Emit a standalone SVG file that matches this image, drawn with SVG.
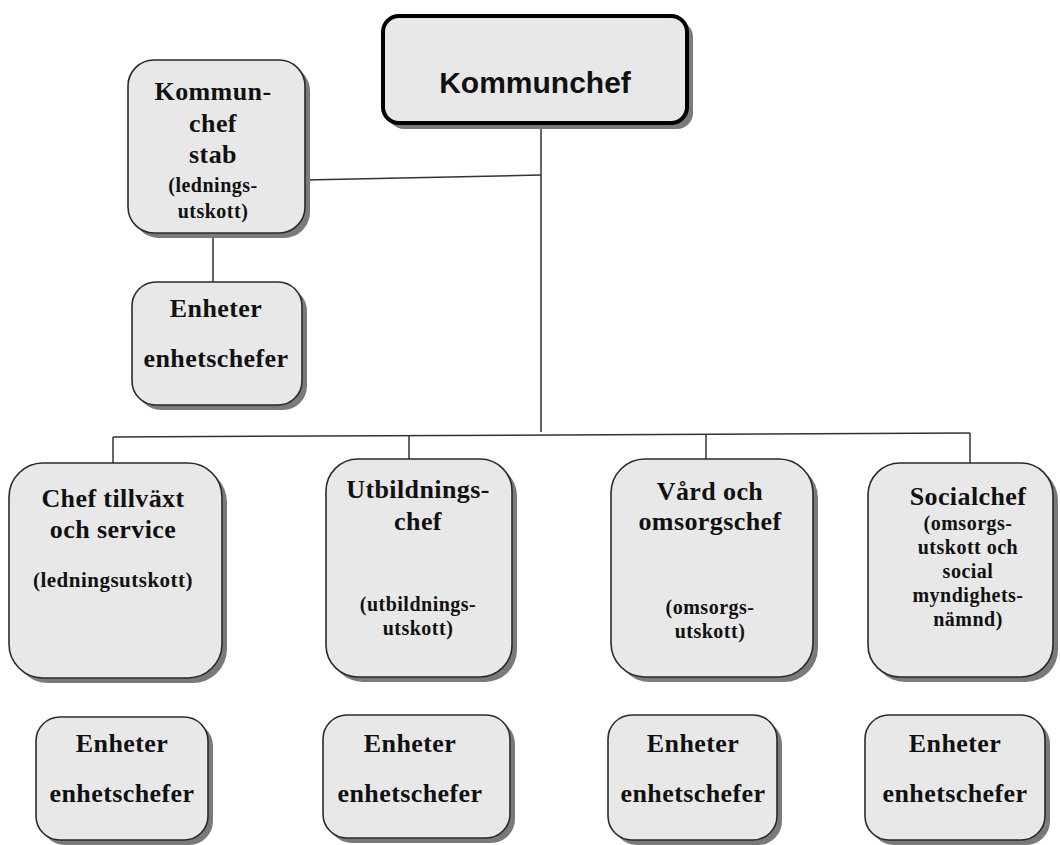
<svg xmlns="http://www.w3.org/2000/svg" width="1060" height="845" viewBox="0 0 1060 845">
<style>
.box{fill:#e8e8e8;stroke:#2a2a2a;stroke-width:1.6}
.sh{fill:#7a7a7a}
.t{font-family:"Liberation Serif","Times New Roman",serif;font-weight:bold;fill:#111;text-anchor:middle;font-size:26px;letter-spacing:0.4px}
.s{font-size:20px;letter-spacing:0.5px}
.c{stroke:#333;stroke-width:1.5;fill:none}
</style>
<rect width="1060" height="845" fill="#fff"/>
<g id="connectors">
<line class="c" x1="541" y1="123" x2="541" y2="432"/>
<line class="c" x1="305" y1="180" x2="541" y2="175"/>
<line class="c" x1="213" y1="233" x2="213" y2="282"/>
<line class="c" x1="113" y1="437" x2="970" y2="433"/>
<line class="c" x1="113" y1="437" x2="113" y2="463"/>
<line class="c" x1="409" y1="435" x2="409" y2="459"/>
<line class="c" x1="706" y1="434" x2="706" y2="459"/>
<line class="c" x1="970" y1="433" x2="970" y2="463"/>
</g>
<g id="kommunchef">
<rect class="sh" x="388" y="21" width="305" height="108" rx="16"/>
<rect x="383" y="16" width="304" height="107" rx="16" fill="#e8e8e8" stroke="#000" stroke-width="4"/>
<text x="535" y="93" font-family="Liberation Sans, Arial, sans-serif" font-weight="bold" font-size="30" text-anchor="middle" fill="#111">Kommunchef</text>
</g>
<g id="stab">
<rect class="sh" x="133" y="65" width="177" height="173" rx="26"/>
<rect class="box" x="128" y="60" width="177" height="173" rx="26"/>
<text class="t" x="213" y="100">Kommun-</text>
<text class="t" x="213" y="132">chef</text>
<text class="t" x="213" y="163">stab</text>
<text class="t s" x="213" y="192">(lednings-</text>
<text class="t s" x="213" y="218">utskott)</text>
</g>
<g id="stab-enheter">
<rect class="sh" x="137" y="287" width="170" height="123" rx="24"/>
<rect class="box" x="132" y="282" width="170" height="123" rx="24"/>
<text class="t" x="216" y="317">Enheter</text>
<text class="t" x="216" y="367">enhetschefer</text>
</g>
<g id="tillvaxt">
<rect class="sh" x="14" y="468" width="213" height="215" rx="34"/>
<rect class="box" x="9" y="463" width="213" height="215" rx="34"/>
<text class="t" x="113" y="507">Chef tillväxt</text>
<text class="t" x="113" y="538">och service</text>
<text class="t s" x="113" y="587" style="font-size:21px">(ledningsutskott)</text>
</g>
<g id="utbildning">
<rect class="sh" x="331" y="464" width="186" height="218" rx="32"/>
<rect class="box" x="326" y="459" width="186" height="218" rx="32"/>
<text class="t" x="418" y="498">Utbildnings-</text>
<text class="t" x="418" y="530">chef</text>
<text class="t s" x="418" y="611">(utbildnings-</text>
<text class="t s" x="418" y="635">utskott)</text>
</g>
<g id="vard">
<rect class="sh" x="616" y="464" width="202" height="218" rx="34"/>
<rect class="box" x="611" y="459" width="202" height="218" rx="34"/>
<text class="t" x="710" y="500">Vård och</text>
<text class="t" x="710" y="530">omsorgschef</text>
<text class="t s" x="710" y="614">(omsorgs-</text>
<text class="t s" x="710" y="638">utskott)</text>
</g>
<g id="social">
<rect class="sh" x="873" y="468" width="185" height="214" rx="32"/>
<rect class="box" x="868" y="463" width="185" height="214" rx="32"/>
<text class="t" x="968" y="505">Socialchef</text>
<text class="t s" x="968" y="530">(omsorgs-</text>
<text class="t s" x="968" y="554">utskott och</text>
<text class="t s" x="968" y="578">social</text>
<text class="t s" x="968" y="602">myndighets-</text>
<text class="t s" x="968" y="626">nämnd)</text>
</g>
<g id="enheter-1">
<rect class="sh" x="41" y="722" width="172" height="123" rx="24"/>
<rect class="box" x="36" y="717" width="172" height="123" rx="24"/>
<text class="t" x="122" y="752">Enheter</text>
<text class="t" x="122" y="802">enhetschefer</text>
</g>
<g id="enheter-2">
<rect class="sh" x="328" y="720" width="187" height="123" rx="24"/>
<rect class="box" x="323" y="715" width="187" height="123" rx="24"/>
<text class="t" x="410" y="752">Enheter</text>
<text class="t" x="410" y="802">enhetschefer</text>
</g>
<g id="enheter-3">
<rect class="sh" x="613" y="720" width="169" height="125" rx="24"/>
<rect class="box" x="608" y="715" width="169" height="125" rx="24"/>
<text class="t" x="693" y="752">Enheter</text>
<text class="t" x="693" y="802">enhetschefer</text>
</g>
<g id="enheter-4">
<rect class="sh" x="870" y="720" width="180" height="125" rx="24"/>
<rect class="box" x="865" y="715" width="180" height="125" rx="24"/>
<text class="t" x="955" y="752">Enheter</text>
<text class="t" x="955" y="802">enhetschefer</text>
</g>
</svg>
